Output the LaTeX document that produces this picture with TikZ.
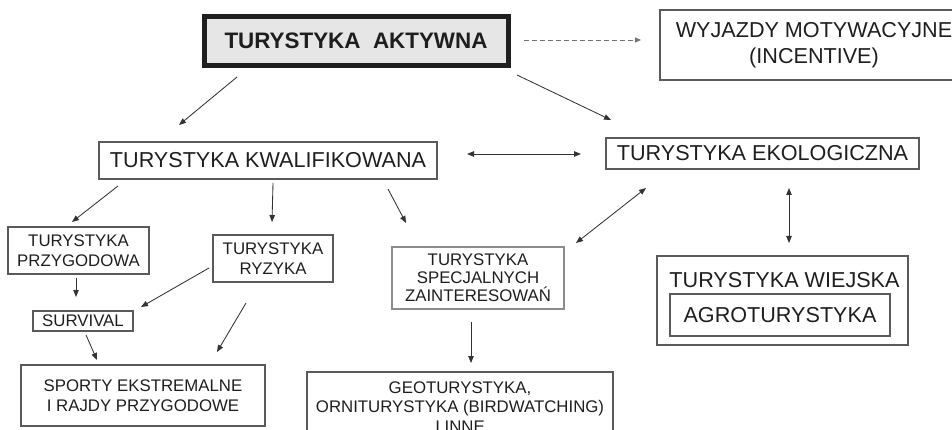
\documentclass[tikz,border=0pt]{standalone}
\usepackage{fontspec}
\setmainfont{Liberation Sans}
\usetikzlibrary{arrows.meta}
\definecolor{boxc}{HTML}{5A5A5A}
\definecolor{arrc}{HTML}{333333}
\definecolor{txtc}{HTML}{1E1E1E}
\definecolor{titlefill}{HTML}{E6E6E6}
\begin{document}
\begin{tikzpicture}[x=1pt,y=-1pt,
  box/.style={draw=boxc, line width=1.1pt, rectangle, inner sep=0pt, align=center, text=txtc},
  big/.style={font=\fontsize{21.6}{26}\selectfont},
  small/.style={font=\fontsize{16.8}{19.5}\selectfont},
  arr/.style={draw=arrc, line width=0.85pt, -{Triangle[length=7pt,width=5.5pt]}},
  darr/.style={draw=arrc, line width=0.85pt, {Triangle[length=7pt,width=5.5pt]}-{Triangle[length=7pt,width=5.5pt]}},
  dasharr/.style={draw=black!55, line width=0.8pt, dash pattern=on 5pt off 3pt, -{Triangle[length=6pt,width=5pt]}},
]
\useasboundingbox (0,0) rectangle (952,430);
\clip (0,0) rectangle (952,430);

% boxes
\node[draw=black!88, line width=5pt, fill=titlefill, minimum width=304, minimum height=49, inner sep=0pt,
      text=txtc, font=\bfseries\fontsize{22.4}{26}\selectfont] (akt) at (356,41) {TURYSTYKA~~AKTYWNA};
\node[box, big, minimum width=308, minimum height=70] (wyj) at (814,45) {WYJAZDY MOTYWACYJNE\\(INCENTIVE)};
\node[box, big, minimum width=338, minimum height=37] (kwal) at (268,160.5) {TURYSTYKA KWALIFIKOWANA};
\node[box, big, minimum width=313, minimum height=31] (eko) at (762.5,153.5) {TURYSTYKA EKOLOGICZNA};
\node[box, small, minimum width=141, minimum height=47] (przyg) at (78.5,250.5) {TURYSTYKA\\PRZYGODOWA};
\node[box, small, minimum width=120, minimum height=47] (ryz) at (273,258.5) {TURYSTYKA\\RYZYKA};
\node[box, small, minimum width=100, minimum height=20] (surv) at (83,321) {SURVIVAL};
\node[box, small, minimum width=244, minimum height=61] (sport) at (143,395.5) {SPORTY EKSTREMALNE\\I RAJDY PRZYGODOWE};
\node[box, draw=black!45, font=\fontsize{16.8}{18}\selectfont, minimum width=172, minimum height=62] (spec) at (478,278)
      {TURYSTYKA\\SPECJALNYCH\\ZAINTERESOWAŃ};
\node[box, small, minimum width=306, minimum height=70] (geo) at (460,407) {GEOTURYSTYKA,\\ORNITURYSTYKA (BIRDWATCHING)\\I INNE};
\node[box, minimum width=251, minimum height=89] (wiej) at (782.5,300.5) {};
\node[big, text=txtc, inner sep=0pt] (wiejt) at (784.5,280.5) {TURYSTYKA WIEJSKA};
\node[box, big, minimum width=220, minimum height=42] (agro) at (780,315) {AGROTURYSTYKA};

% connector end points
\coordinate (a1s) at (237,77);  \coordinate (a1e) at (179,125);
\coordinate (a2s) at (517,75);  \coordinate (a2e) at (611,120);
\coordinate (a3s) at (524,40);  \coordinate (a3e) at (641,40);
\coordinate (a4s) at (467,154); \coordinate (a4e) at (581,154);
\coordinate (a5s) at (118,186); \coordinate (a5e) at (72,222);
\coordinate (a6s) at (273,183); \coordinate (a6e) at (272,222);
\coordinate (a7s) at (388,189); \coordinate (a7e) at (406,223);
\coordinate (a8s) at (646,188); \coordinate (a8e) at (576,243);
\coordinate (a9s) at (789,188); \coordinate (a9e) at (789,243);
\coordinate (b1s) at (76,278);  \coordinate (b1e) at (76,297);
\coordinate (b2s) at (209,268); \coordinate (b2e) at (141,307);
\coordinate (b3s) at (86,335);  \coordinate (b3e) at (97,360);
\coordinate (b4s) at (246,303); \coordinate (b4e) at (217,352);
\coordinate (b5s) at (471,322); \coordinate (b5e) at (471,363);

% connectors
\draw[arr] (a1s) -- (a1e);
\draw[arr] (a2s) -- (a2e);
\draw[dasharr] (a3s) -- (a3e);
\draw[darr] (a4s) -- (a4e);
\draw[arr] (a5s) -- (a5e);
\draw[arr] (a6s) -- (a6e);
\draw[arr] (a7s) -- (a7e);
\draw[darr] (a8s) -- (a8e);
\draw[darr] (a9s) -- (a9e);
\draw[arr] (b1s) -- (b1e);
\draw[arr] (b2s) -- (b2e);
\draw[arr] (b3s) -- (b3e);
\draw[arr] (b4s) -- (b4e);
\draw[arr] (b5s) -- (b5e);
\end{tikzpicture}
\end{document}
